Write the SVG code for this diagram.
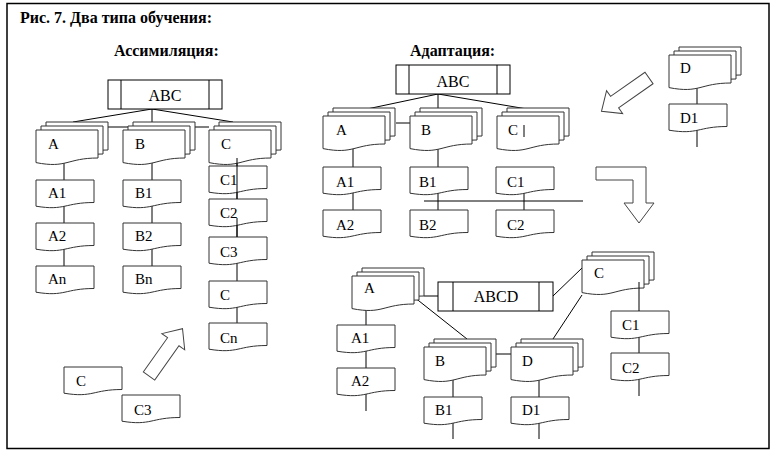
<svg xmlns="http://www.w3.org/2000/svg" width="779" height="457" viewBox="0 0 779 457">
<style>
.ln{stroke:#000;stroke-width:1;fill:none}
.t{font-family:"Liberation Serif","Times New Roman",serif;font-size:15px;fill:#000}
.tb{font-family:"Liberation Serif","Times New Roman",serif;font-size:16px;fill:#000}
.h{font-family:"Liberation Serif","Times New Roman",serif;font-size:16px;font-weight:bold;fill:#000}
.bx{fill:#fff;stroke:#000;stroke-width:1}
</style>
<defs>
<path id="doc" fill="#fff" stroke="#333" stroke-width="1" d="M0,0 h62 v28 c-31,0 -31,10.7 -62,4.6 z"/>
<path id="sdoc" fill="#fff" stroke="#333" stroke-width="1" d="M0,0 h58 v22.5 c-29,0 -29,8.5 -58,3.7 z"/>
<g id="stk"><use href="#doc" x="10" y="-8"/><use href="#doc" x="5" y="-4"/><use href="#doc"/></g>
<polygon id="arr" fill="#fff" stroke="#444" stroke-width="1" points="0,-7 42,-7 42,-14 58,0 42,14 42,7 0,7"/>
</defs>
<rect x="7" y="3.5" width="762" height="445" fill="none" stroke="#000" stroke-width="1.5"/>
<text class="h" x="20" y="23">Рис. 7. Два типа обучения:</text>
<text class="h" x="114" y="56">Ассимиляция:</text>
<text class="h" x="410" y="56">Адаптация:</text>

<g id="connectors">
<path class="ln" d="M152,109 L73,122 M152,109 V122 M152,109 L233,122 M108,127 H209 M64,155 V266 M152,155 V266 M237,155 V323"/>
<path class="ln" d="M438,94 L367,109 M438,94 V109 M438,94 L527,109 M396,123 H410 M353,145 V210 M438,145 V210 M524,190 V210 M424,201 H583 M697,85 V147"/>
<path class="ln" d="M424,296 H438 M553,296 L582,268 M582,295 L553,339 M414,297 L467,339 M496,354 H511 M366,305 V411 M453,375 V439 M539,375 V439 M639,311 V396"/>
</g>

<g id="assim-abc"><rect class="bx" x="108" y="80" width="114" height="29"/><path class="ln" d="M121,80 V109 M209,80 V109"/><text class="tb" x="165" y="101" text-anchor="middle">ABC</text></g>
<g id="assim-a"><use href="#stk" x="36" y="130"/><text class="t" x="48" y="149">A</text></g>
<g id="assim-b"><use href="#stk" x="123" y="130"/><text class="t" x="135" y="149">B</text></g>
<g id="assim-c"><use href="#stk" x="209" y="130"/><text class="t" x="221" y="149">C</text></g>
<g id="assim-a1"><use href="#sdoc" x="36" y="180"/><text class="t" x="48" y="198">A1</text></g>
<g id="assim-a2"><use href="#sdoc" x="36" y="223"/><text class="t" x="48" y="241">A2</text></g>
<g id="assim-an"><use href="#sdoc" x="36" y="266"/><text class="t" x="48" y="284">An</text></g>
<g id="assim-b1"><use href="#sdoc" x="123" y="180"/><text class="t" x="135" y="198">B1</text></g>
<g id="assim-b2"><use href="#sdoc" x="123" y="223"/><text class="t" x="135" y="241">B2</text></g>
<g id="assim-bn"><use href="#sdoc" x="123" y="266"/><text class="t" x="135" y="284">Bn</text></g>
<g id="assim-c1"><use href="#sdoc" x="209" y="166"/><text class="t" x="220" y="185">C1</text></g>
<g id="assim-c2"><use href="#sdoc" x="209" y="199"/><text class="t" x="220" y="218">C2</text></g>
<g id="assim-c3"><use href="#sdoc" x="209" y="237"/><text class="t" x="220" y="257">C3</text></g>
<g id="assim-cc"><use href="#sdoc" x="209" y="281"/><text class="t" x="220" y="300">C</text></g>
<g id="assim-cn"><use href="#sdoc" x="209" y="323"/><text class="t" x="220" y="343">Cn</text></g>
<g id="loose-c"><use href="#sdoc" x="64" y="367"/><text class="t" x="76" y="386">C</text></g>
<g id="loose-c3"><use href="#sdoc" x="122" y="395"/><text class="t" x="134" y="415">C3</text></g>
<g id="arrow-assim"><use href="#arr" transform="translate(149,376) rotate(-54.7)"/></g>

<g id="adapt-abc"><rect class="bx" x="396" y="65" width="114" height="29"/><path class="ln" d="M409,65 V94 M497,65 V94"/><text class="tb" x="453" y="87" text-anchor="middle">ABC</text></g>
<g id="adapt-a"><use href="#stk" x="323" y="116"/><text class="t" x="336" y="135">A</text></g>
<g id="adapt-b"><use href="#stk" x="410" y="116"/><text class="t" x="421" y="135">B</text></g>
<g id="adapt-c"><use href="#stk" x="497" y="116"/><text class="t" x="508" y="135">C</text></g>
<g id="adapt-a1"><use href="#sdoc" x="323" y="167"/><text class="t" x="336" y="187">A1</text></g>
<g id="adapt-a2"><use href="#sdoc" x="323" y="210"/><text class="t" x="336" y="230">A2</text></g>
<g id="adapt-b1"><use href="#sdoc" x="410" y="167"/><text class="t" x="419" y="187">B1</text></g>
<g id="adapt-b2"><use href="#sdoc" x="410" y="210"/><text class="t" x="419" y="230">B2</text></g>
<g id="adapt-c1"><use href="#sdoc" x="496" y="167"/><text class="t" x="507" y="187">C1</text></g>
<g id="adapt-c2"><use href="#sdoc" x="496" y="210"/><text class="t" x="507" y="230">C2</text></g>
<g id="adapt-d"><use href="#stk" x="669" y="55"/><text class="t" x="680" y="73">D</text></g>
<g id="adapt-d1"><use href="#sdoc" x="669" y="104"/><text class="t" x="680" y="123">D1</text></g>
<g id="arrow-d"><use href="#arr" transform="translate(649,78) rotate(145)"/></g>
<g id="arrow-bent"><polygon fill="#fff" stroke="#444" stroke-width="1" points="596,167 646,167 646,203 654,203 639,223 624,203 633,203 633,180 596,180"/></g>

<g id="low-a"><use href="#stk" x="352" y="276"/><text class="t" x="364" y="293">A</text></g>
<g id="low-abcd"><rect class="bx" x="438" y="282" width="115" height="29"/><path class="ln" d="M453,282 V311 M539,282 V311"/><text class="tb" x="496" y="302" text-anchor="middle">ABCD</text></g>
<g id="low-c"><use href="#stk" x="582" y="260"/><text class="t" x="594" y="278">C</text></g>
<g id="low-b"><use href="#stk" x="424" y="347"/><text class="t" x="435" y="366">B</text></g>
<g id="low-d"><use href="#stk" x="511" y="347"/><text class="t" x="522" y="366">D</text></g>
<g id="low-a1"><use href="#sdoc" x="337" y="325"/><text class="t" x="351" y="343">A1</text></g>
<g id="low-a2"><use href="#sdoc" x="337" y="368"/><text class="t" x="351" y="386">A2</text></g>
<g id="low-b1"><use href="#sdoc" x="424" y="397"/><text class="t" x="435" y="415">B1</text></g>
<g id="low-d1"><use href="#sdoc" x="511" y="397"/><text class="t" x="522" y="415">D1</text></g>
<g id="low-c1"><use href="#sdoc" x="611" y="311"/><text class="t" x="622" y="330">C1</text></g>
<g id="low-c2"><use href="#sdoc" x="611" y="353"/><text class="t" x="622" y="373">C2</text></g>

<g id="connectors-over">
<path class="ln" d="M237,158 V199 M237,218 V237 M524,125 V137 M639,282 V311"/>
</g>
</svg>
